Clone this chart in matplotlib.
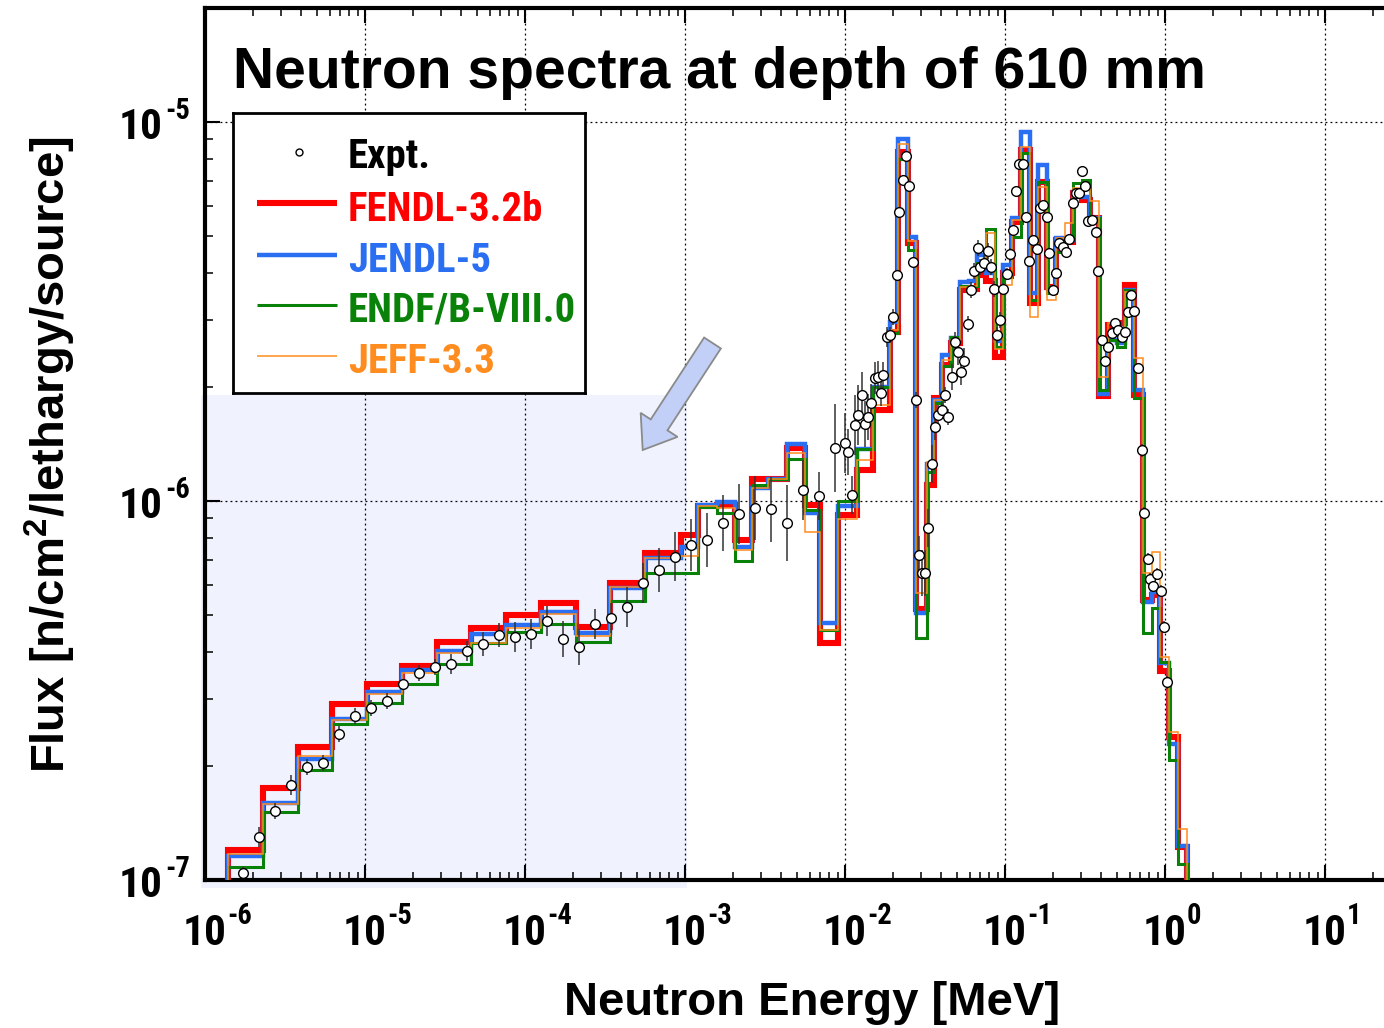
import numpy as np
import matplotlib
matplotlib.use("Agg")
import matplotlib.pyplot as plt
from matplotlib import ticker, patches, transforms
from matplotlib.font_manager import fontManager, FontProperties, findfont
from matplotlib.textpath import TextPath

# ---------------- data ----------------
bin_edges_mev = [
    1.398e-6, 2.304e-6, 3.802e-6, 6.264e-6, 1.032e-5, 1.703e-5, 2.806e-5, 4.624e-5,
    7.627e-5, 1.258e-4, 2.072e-4, 3.418e-4, 5.630e-4, 9.441e-4,
    1.206e-3, 1.585e-3, 2.054e-3, 2.623e-3, 3.302e-3, 4.341e-3, 5.623e-3, 6.980e-3,
    9.044e-3, 1.189e-2, 1.496e-2, 1.911e-2, 2.145e-2,
    2.477e-2, 2.798e-2, 3.232e-2, 3.600e-2, 4.040e-2, 4.597e-2, 5.233e-2, 5.957e-2,
    6.683e-2, 7.607e-2, 8.660e-2, 9.716e-2, 0.1106, 0.1259, 0.1433, 0.1608, 0.1830,
    0.2084, 0.2371, 0.2661, 0.3029, 0.3399, 0.3868, 0.4404, 0.5012, 0.5623, 0.6401,
    0.7286, 0.8294, 0.9307, 1.059, 1.206, 1.372, 1.562]

fendl = [
    1.20e-7, 1.75e-7, 2.25e-7, 2.91e-7, 3.29e-7, 3.67e-7, 4.25e-7, 4.62e-7, 5.00e-7, 5.37e-7,
    4.64e-7, 6.09e-7, 7.30e-7, 8.14e-7, 9.70e-7, 9.76e-7, 7.89e-7, 1.14e-6, 1.14e-6, 1.38e-6,
    9.76e-7, 4.22e-7, 9.18e-7, 1.21e-6, 1.74e-6, 2.80e-6, 8.33e-6, 4.80e-6, 5.19e-7, 1.10e-6,
    1.87e-6, 2.29e-6, 2.61e-6, 3.60e-6, 3.62e-6, 3.95e-6, 3.81e-6, 2.40e-6, 4.00e-6, 5.46e-6,
    8.44e-6, 3.33e-6, 6.96e-6, 3.68e-6, 4.88e-6, 4.82e-6, 6.50e-6, 6.23e-6, 5.57e-6, 1.89e-6,
    2.91e-6, 2.95e-6, 3.72e-6, 1.90e-6, 5.48e-7, 5.65e-7, 3.55e-7, 2.39e-7, 1.22e-7, 3.0e-8]

jendl = [
    1.16e-7, 1.60e-7, 2.09e-7, 2.66e-7, 3.14e-7, 3.58e-7, 4.03e-7, 4.46e-7, 4.71e-7, 5.11e-7,
    4.49e-7, 5.88e-7, 7.06e-7, 7.57e-7, 9.76e-7, 9.94e-7, 7.57e-7, 1.08e-6, 1.14e-6, 1.41e-6,
    9.31e-7, 4.78e-7, 9.70e-7, 1.37e-6, 2.00e-6, 2.97e-6, 9.00e-6, 4.96e-6, 5.07e-7, 1.25e-6,
    1.85e-6, 2.43e-6, 2.69e-6, 3.78e-6, 3.80e-6, 4.46e-6, 4.00e-6, 2.64e-6, 4.20e-6, 5.58e-6,
    9.43e-6, 3.54e-6, 7.70e-6, 3.65e-6, 4.93e-6, 4.88e-6, 6.55e-6, 6.35e-6, 5.57e-6, 1.92e-6,
    2.66e-6, 2.61e-6, 3.60e-6, 1.96e-6, 5.41e-7, 5.75e-7, 3.74e-7, 2.29e-7, 1.23e-7, 3.0e-8]

endf = [
    1.08e-7, 1.51e-7, 1.95e-7, 2.58e-7, 2.93e-7, 3.29e-7, 3.72e-7, 4.21e-7, 4.50e-7, 4.73e-7,
    4.25e-7, 5.46e-7, 6.47e-7, 6.47e-7, 9.64e-7, 9.30e-7, 6.96e-7, 1.10e-6, 1.14e-6, 1.29e-6,
    9.47e-7, 4.57e-7, 1.00e-6, 1.37e-6, 2.00e-6, 2.78e-6, 7.99e-6, 4.59e-6, 4.36e-7, 1.19e-6,
    1.81e-6, 2.27e-6, 2.71e-6, 3.69e-6, 3.70e-6, 4.25e-6, 5.22e-6, 2.55e-6, 3.89e-6, 4.98e-6,
    8.27e-6, 3.39e-6, 6.96e-6, 3.53e-6, 4.55e-6, 4.94e-6, 6.89e-6, 7.03e-6, 5.57e-6, 1.96e-6,
    2.66e-6, 2.55e-6, 3.60e-6, 1.87e-6, 4.48e-7, 5.22e-7, 3.77e-7, 2.07e-7, 1.10e-7, 3.0e-8]

jeff = [
    1.17e-7, 1.59e-7, 2.12e-7, 2.64e-7, 3.10e-7, 3.52e-7, 3.98e-7, 4.21e-7, 4.62e-7, 5.02e-7,
    4.40e-7, 5.94e-7, 7.06e-7, 7.16e-7, 9.70e-7, 9.58e-7, 7.42e-7, 1.08e-6, 1.14e-6, 1.34e-6,
    8.30e-7, 4.57e-7, 8.96e-7, 1.28e-6, 1.79e-6, 2.83e-6, 8.75e-6, 4.86e-6, 5.71e-7, 1.27e-6,
    1.85e-6, 2.36e-6, 2.66e-6, 3.67e-6, 3.70e-6, 4.20e-6, 5.09e-6, 2.52e-6, 3.72e-6, 5.51e-6,
    8.61e-6, 3.06e-6, 6.75e-6, 3.39e-6, 4.94e-6, 5.42e-6, 6.68e-6, 6.66e-6, 6.19e-6, 2.13e-6,
    2.95e-6, 2.81e-6, 3.57e-6, 2.38e-6, 6.46e-7, 7.35e-7, 3.88e-7, 2.46e-7, 1.36e-7, 3.0e-8]

expt_energy = [
    1.735e-6, 2.184e-6, 2.750e-6, 3.462e-6, 4.358e-6, 5.486e-6, 6.907e-6, 8.695e-6,
    1.095e-5, 1.378e-5, 1.735e-5, 2.184e-5, 2.750e-5, 3.462e-5, 4.358e-5, 5.486e-5,
    6.907e-5, 8.695e-5, 1.095e-4, 1.378e-4, 1.735e-4, 2.184e-4, 2.750e-4, 3.462e-4,
    4.358e-4, 5.486e-4, 6.907e-4, 8.695e-4, 1.095e-3, 1.378e-3, 1.735e-3, 2.184e-3,
    2.750e-3, 3.462e-3, 4.358e-3, 5.486e-3, 6.907e-3, 8.695e-3,
    1.000e-2, 1.049e-2, 1.101e-2, 1.155e-2, 1.211e-2, 1.272e-2, 1.334e-2, 1.398e-2,
    1.454e-2, 1.540e-2, 1.615e-2, 1.671e-2, 1.735e-2, 1.822e-2, 1.911e-2, 2.004e-2,
    2.104e-2, 2.185e-2, 2.294e-2, 2.406e-2, 2.523e-2, 2.649e-2, 2.779e-2, 2.901e-2,
    3.016e-2, 3.162e-2, 3.325e-2, 3.512e-2, 3.652e-2, 3.829e-2, 4.021e-2, 4.217e-2,
    4.421e-2, 4.643e-2, 4.870e-2, 5.105e-2, 5.309e-2, 5.544e-2, 5.846e-2, 6.130e-2,
    6.427e-2, 6.750e-2, 6.978e-2, 7.423e-2, 7.796e-2, 8.175e-2, 8.537e-2, 8.913e-2,
    9.307e-2, 9.759e-2, 0.1025, 0.1075, 0.1117, 0.1172, 0.1229, 0.1301, 0.1353, 0.1419,
    0.1490, 0.1578, 0.1655, 0.1735, 0.1822, 0.1891, 0.1986, 0.2074, 0.2185, 0.2294,
    0.2406, 0.2523, 0.2649, 0.2779, 0.2913, 0.3029, 0.3162, 0.3317, 0.3483, 0.3689,
    0.3829, 0.4021, 0.4236, 0.4421, 0.4643, 0.4870, 0.5105, 0.5364, 0.5623, 0.5846,
    0.6130, 0.6427, 0.6750, 0.7151, 0.7394, 0.7796, 0.8058, 0.8450, 0.8873, 0.9400,
    0.9858, 1.0247]

expt_flux = [
    1.045e-7, 1.301e-7, 1.521e-7, 1.781e-7, 1.991e-7, 2.032e-7, 2.424e-7, 2.709e-7,
    2.838e-7, 2.967e-7, 3.283e-7, 3.511e-7, 3.648e-7, 3.722e-7, 4.012e-7, 4.187e-7,
    4.438e-7, 4.385e-7, 4.458e-7, 4.825e-7, 4.316e-7, 4.127e-7, 4.737e-7, 4.921e-7,
    5.262e-7, 6.064e-7, 6.577e-7, 7.129e-7, 7.653e-7, 7.892e-7, 8.764e-7, 9.224e-7,
    9.600e-7, 9.508e-7, 8.734e-7, 1.069e-6, 1.031e-6, 1.380e-6,
    1.422e-6, 1.347e-6, 1.037e-6, 1.587e-6, 1.686e-6, 1.904e-6, 1.597e-6, 1.666e-6,
    1.814e-6, 2.111e-6, 2.124e-6, 1.928e-6, 2.150e-6, 2.709e-6, 2.742e-6, 3.058e-6,
    3.947e-6, 5.787e-6, 7.031e-6, 8.135e-6, 6.778e-6, 4.272e-6, 1.848e-6, 7.200e-7,
    6.457e-7, 6.457e-7, 8.488e-7, 1.252e-6, 1.568e-6, 1.686e-6, 1.739e-6, 1.904e-6,
    1.666e-6, 2.124e-6, 2.627e-6, 2.473e-6, 2.190e-6, 2.341e-6, 2.931e-6, 3.604e-6,
    4.045e-6, 4.651e-6, 4.144e-6, 4.246e-6, 4.567e-6, 4.144e-6, 3.626e-6, 2.742e-6,
    3.003e-6, 3.626e-6, 3.972e-6, 4.485e-6, 5.188e-6, 6.575e-6, 7.749e-6, 7.749e-6,
    5.615e-6, 4.298e-6, 4.883e-6, 4.624e-6, 5.931e-6, 6.039e-6, 5.615e-6, 4.511e-6,
    3.604e-6, 3.996e-6, 4.795e-6, 4.681e-6, 4.539e-6, 4.912e-6, 6.112e-6, 6.495e-6,
    6.495e-6, 7.426e-6, 6.778e-6, 5.481e-6, 5.514e-6, 5.126e-6, 4.045e-6, 2.660e-6,
    2.341e-6, 2.549e-6, 2.776e-6, 2.949e-6, 2.826e-6, 2.709e-6, 2.792e-6, 3.152e-6,
    3.496e-6, 3.171e-6, 2.244e-6, 1.363e-6, 9.297e-7, 7.031e-7, 6.228e-7, 5.967e-7,
    6.418e-7, 5.788e-7, 4.651e-7, 3.329e-7]

expt_rel_err = [
    0.037, 0.063, 0.05, 0.063, 0.05, 0.05, 0.05, 0.05, 0.05, 0.05, 0.03, 0.05, 0.05,
    0.063, 0.063, 0.076, 0.076, 0.095, 0.095, 0.095, 0.115, 0.115, 0.095, 0.095, 0.13,
    0.13, 0.14, 0.16, 0.17, 0.18, 0.185, 0.20, 0.215, 0.22, 0.26, 0.20, 0.16, 0.31,
    0.20, 0.15, 0.12, 0.20, 0.20, 0.15, 0.15, 0.15, 0.12, 0.10, 0.10, 0.08, 0.08,
    0.06, 0.05, 0.05, 0.03, 0.03, 0.03, 0.03, 0.03, 0.03,
    0.05, 0.12, 0.15, 0.15, 0.12, 0.12, 0.08, 0.06, 0.05, 0.05, 0.05,
    0.08, 0.06, 0.08, 0.08, 0.08, 0.05, 0.05,
    0.05, 0.05, 0.05, 0.05, 0.05, 0.05, 0.05, 0.05, 0.05, 0.04,
    0.04, 0.04, 0.03, 0.03, 0.03, 0.03, 0.03, 0.03, 0.03, 0.03,
    0.03, 0.03, 0.03, 0.03, 0.03, 0.03, 0.03, 0.03, 0.03, 0.03,
    0.03, 0.03, 0.03, 0.03, 0.03, 0.03, 0.03, 0.03, 0.03, 0.03,
    0.03, 0.03, 0.03, 0.03, 0.03, 0.03, 0.03, 0.03, 0.03, 0.03,
    0.03, 0.04, 0.04, 0.04, 0.04, 0.04, 0.04, 0.04, 0.04, 0.04]

library_names = ["FENDL-3.2b", "JENDL-5", "ENDF/B-VIII.0", "JEFF-3.3"]
library_colors = ["#FF0000", "#2A6EF2", "#0A820A", "#FF8C1E"]
library_widths = [4.4, 3.2, 2.2, 1.1]
x_tick_values = [1e-6, 1e-5, 1e-4, 1e-3, 1e-2, 1e-1, 1e0, 1e1, 1e2]
x_label_values = [1e-6, 1e-5, 1e-4, 1e-3, 1e-2, 1e-1, 1e0, 1e1]
y_tick_values = [1e-7, 1e-6, 1e-5]


# ---------------- fonts ----------------
def find_condensed_bold():
    prefs = ["Liberation Sans Narrow", "Roboto Condensed", "Arial Narrow",
             "Nimbus Sans Narrow", "Noto Sans", "Open Sans", "DejaVu Sans", "Roboto"]
    cands = []
    for f in fontManager.ttflist:
        nm = f.name
        st = f.stretch
        cond = ("Narrow" in nm or "Condensed" in nm or
                st in ("condensed", "extra-condensed", "ultra-condensed", "semi-condensed") or
                (isinstance(st, (int, float)) and st <= 400))
        w = f.weight
        if isinstance(w, str):
            w = {"bold": 700, "semibold": 600, "demibold": 600, "heavy": 800,
                 "extra bold": 800, "black": 900}.get(w, 400)
        if cond and 600 <= w <= 800 and f.style == "normal" and "Semi" not in nm:
            rank = next((i for i, p in enumerate(prefs) if nm.startswith(p)), len(prefs))
            cands.append((rank, abs(w - 700), f.fname))
    if cands:
        return sorted(cands)[0][2]
    return findfont(FontProperties(family="Liberation Sans", weight="bold"))


cond_path = find_condensed_bold()


def fit_size(path, text, target_w, target_h, ref="E"):
    fp = FontProperties(fname=path)
    w = TextPath((0, 0), text, size=100, prop=fp).get_extents().width
    h = TextPath((0, 0), ref, size=100, prop=fp).get_extents().height
    sw = target_w * 72 / w
    sh = target_h * 72 / h
    return (sw * sh) ** 0.5, sw


tick_size, _ = fit_size(cond_path, "10", 38, 32, ref="0")
sup_size = tick_size * 0.66
leg_size, leg_sw = fit_size(cond_path, "FENDL-3.2b", 198, 28)
_, endf_sw = fit_size(cond_path, "ENDF/B-VIII.0", 226, 28)
leg_size = min(leg_size, endf_sw)
fp_tick = FontProperties(fname=cond_path, size=tick_size)
fp_sup = FontProperties(fname=cond_path, size=sup_size)
fp_leg = FontProperties(fname=cond_path, size=leg_size)

plt.rcParams["mathtext.fontset"] = "custom"
plt.rcParams["mathtext.rm"] = "Liberation Sans:bold"
plt.rcParams["mathtext.bf"] = "Liberation Sans:bold"
plt.rcParams["mathtext.it"] = "Liberation Sans:bold"

W, H = 1384, 1028
fig = plt.figure(figsize=(W / 100, H / 100), dpi=100)
fig.patch.set_facecolor("white")

# shaded highlight region (figure pixels)
shade = patches.Rectangle((201 / W, 1 - 888 / H), (687 - 201) / W, (888 - 395) / H,
                          transform=fig.transFigure, facecolor="#F0F3FE",
                          edgecolor="none", zorder=-5)
fig.patches.append(shade)

ax = fig.add_axes([205 / W, 1 - 880 / H, 1280 / W, 872 / H])
ax.set_facecolor("none")
ax.set_xscale("log")
ax.set_yscale("log")
ax.set_xlim(1e-6, 1e2)
ax.set_ylim(1e-7, 2.0e-5)

for vals, col, lw in zip([fendl, jendl, endf, jeff], library_colors, library_widths):
    sp = ax.stairs(vals, bin_edges_mev, baseline=1e-9, color=col, linewidth=lw, zorder=3)
    sp.set_joinstyle("miter")
    sp.set_capstyle("butt")

E = np.array(expt_energy)
F = np.array(expt_flux)
r = np.array(expt_rel_err)
ax.errorbar(E, F, yerr=[F - F / (1 + r), F * r], fmt="o", ms=7, mfc="white",
            mec="black", mew=1.0, ecolor="#333333", elinewidth=1.1, capsize=0, zorder=6)

# ticks / grid
ax.xaxis.set_major_locator(ticker.FixedLocator(x_tick_values))
ax.yaxis.set_major_locator(ticker.FixedLocator(y_tick_values))
ax.xaxis.set_minor_locator(ticker.LogLocator(base=10, subs=np.arange(2, 10), numticks=30))
ax.yaxis.set_minor_locator(ticker.LogLocator(base=10, subs=np.arange(2, 10), numticks=30))
ax.xaxis.set_major_formatter(ticker.NullFormatter())
ax.yaxis.set_major_formatter(ticker.NullFormatter())
ax.xaxis.set_minor_formatter(ticker.NullFormatter())
ax.yaxis.set_minor_formatter(ticker.NullFormatter())
ax.tick_params(which="both", direction="in", top=True, right=True, colors="black")
ax.tick_params(which="major", length=11, width=1.5)
ax.tick_params(which="minor", length=6, width=1.1)
ax.grid(which="major", color="black", linestyle=(0, (1.5, 2.5)), linewidth=0.9)
for s in ax.spines.values():
    s.set_linewidth(3.0)


def px_off(dx, dy):
    return transforms.ScaledTranslation(dx / 100, -dy / 100, fig.dpi_scale_trans)


xtr = ax.get_xaxis_transform()
for v in x_label_values:
    e = int(round(np.log10(v)))
    ax.text(v, 0, "10", transform=xtr + px_off(0, 65), ha="center", va="baseline",
            fontproperties=fp_tick, clip_on=False)
    ax.text(v, 0, str(e), transform=xtr + px_off(22, 44), ha="left", va="baseline",
            fontproperties=fp_sup, clip_on=False)

ytr = ax.get_yaxis_transform()
for v in y_tick_values:
    e = int(round(np.log10(v)))
    ax.text(0, v, "10", transform=ytr + px_off(-42, 17), ha="right", va="baseline",
            fontproperties=fp_tick, clip_on=False)
    ax.text(0, v, str(e), transform=ytr + px_off(-40, -3), ha="left", va="baseline",
            fontproperties=fp_sup, clip_on=False)

# title and axis labels
fig.text(233 / W, 1 - 88 / H, "Neutron spectra at depth of 610 mm", fontsize=41,
         fontweight="bold", family="Liberation Sans", ha="left", va="baseline")
fig.text(812 / W, 1 - 1003 / H, "Neutron Energy [MeV]", fontsize=34, fontweight="bold",
         family="Liberation Sans", ha="center", va="center")
fig.text(50 / W, 1 - 455 / H, r"Flux [n/cm$^{\mathbf{2}}$/lethargy/source]", fontsize=34,
         fontweight="bold", family="Liberation Sans", rotation=90, ha="center", va="center")

# arrow
arr = patches.FancyArrow(712.5, H - 343, -69.8, -107, width=20, head_width=44,
                         head_length=30, length_includes_head=True,
                         transform=transforms.IdentityTransform(),
                         facecolor="#C2D0F8", edgecolor="#8A8A8A", linewidth=1.3, zorder=8)
fig.patches.append(arr)

# legend box (pixel coordinates inside box)
lax = fig.add_axes([233 / W, 1 - 393 / H, 352 / W, 280 / H])
lax.set_xlim(0, 352)
lax.set_ylim(280, 0)
lax.set_xticks([])
lax.set_yticks([])
lax.set_facecolor("white")
for s in lax.spines.values():
    s.set_linewidth(2.0)
lax.plot([66], [39], "o", ms=5, mfc="white", mec="black", mew=1.0)
lax.text(115, 55, "Expt.", fontproperties=fp_leg, color="black", va="baseline", ha="left")
line_ys = [90, 142, 192, 243]
text_ys = [108, 159, 209, 260]
for name, col, lw, yl, yt in zip(library_names, library_colors, library_widths, line_ys, text_ys):
    lax.plot([24, 104], [yl, yl], color=col, lw=lw, solid_capstyle="butt")
    lax.text(115, yt, name, fontproperties=fp_leg, color=col, va="baseline", ha="left")

fig.savefig("out.png", dpi=100)
